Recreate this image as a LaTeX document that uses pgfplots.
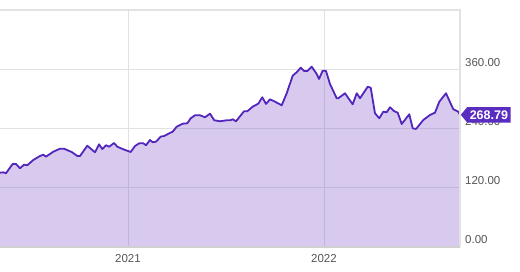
\documentclass[border=0pt]{standalone}
\usepackage{pgfplots}
\pgfplotsset{compat=1.18}
\usepackage{fontspec}
\setmainfont{Liberation Sans}
\usetikzlibrary{shapes.symbols}
\definecolor{linec}{HTML}{5226BC}
\definecolor{fillc}{HTML}{6F42C1}
\definecolor{tagc}{HTML}{5A2DC0}
\definecolor{gridc}{HTML}{E2E2E2}
\definecolor{labc}{HTML}{555555}
\pgfplotstableread{
x y
0 151.1
3.3 151.9
6 149.9
8.3 156.6
12.7 168.8
16 168.8
20 160.1
24 167.4
27.3 166.2
33.3 177
40 185.1
43.3 187.7
46 183.7
53.3 193.8
60 199.9
64 199.9
71.7 193.2
77.3 185.1
80 185.1
87.3 206
95 192.6
99 208.9
102.3 199.3
106 206.9
109.3 204
114 211.5
117.3 204
123.3 198.7
130.7 193.2
135 205.4
139.3 210.9
143.3 210.9
146 206.9
150 217.6
152.7 213
156 214.2
160.7 224.4
164.3 225.8
169.3 231.3
172.7 234.5
176.7 244.7
182.7 250.8
187.3 251.6
190.7 261.8
195 267.9
200 267.9
205 263.8
210 271.1
214.3 257.7
220 255.7
226.7 257.7
230 257.7
232.7 259.7
236 255.7
244 276
247.3 276
252.7 285.4
258.3 291.5
262.3 304.5
266 290.9
270 300.4
275 295.5
281.7 288.2
286.7 312.6
292.7 348.4
297.3 356.6
300.7 364.7
304 358
307.3 358
311.7 366.7
316.7 351.9
319 341.7
322.7 358.6
326 358
330 331.5
336.7 302.5
338.3 302.5
345 312.6
352.7 290.2
356.7 312.6
360 302.5
367.7 326
370.7 324
375 271.9
379.3 261.8
383.3 275.2
386.7 274
390 284.1
394.3 276
397.7 273.2
401.7 250.2
409.3 269.9
412.7 241.4
416 240
423.3 258.3
430 268.5
435 273.2
439.3 295.5
446 312.6
453.3 280.1
458.3 275.2
460 268.79
}\pricedata
\begin{document}
\begin{tikzpicture}
\useasboundingbox (0,0) rectangle (520pt,272pt);
\begin{axis}[
  at={(0pt,25pt)}, anchor=south west,
  scale only axis, width=460pt, height=237pt,
  xmin=0, xmax=460, ymin=0, ymax=482,
  axis line style={draw=none},
  xtick={128,324}, xticklabels={2021,2022},
  ytick={0,120,240,360},
  yticklabel pos=right,
  major tick length=0pt,
  grid=major,
  major grid style={color=gridc, line width=1pt},
  tick label style={font=\fontsize{11.5}{12}\selectfont, text=labc},
  xticklabel style={anchor=base, inner sep=0pt, yshift=-16pt},
  yticklabel style={anchor=base west, inner sep=0pt, xshift=5pt, yshift=3pt},
  /pgf/number format/.cd, fixed, fixed zerofill, precision=2, assume math mode=true,
  /pgfplots/.cd,
  clip=false,
]
\addplot[draw=none, fill=fillc, fill opacity=0.28] table {\pricedata} \closedcycle;
\addplot[color=linec, line width=1.8pt, line join=round] table {\pricedata};
\draw[gridc, line width=1.5pt] (rel axis cs:0,1) -- (rel axis cs:1,1) -- (rel axis cs:1,0);
\draw[color=gridc!92!black, line width=2pt] (rel axis cs:0,0) -- (rel axis cs:1,0);
\node[signal, signal to=west, signal pointer angle=100, fill=tagc, text=white,
  font=\fontsize{12.5}{13}\selectfont\bfseries, inner xsep=2.5pt, inner ysep=1.5pt, minimum height=15.5pt,
  anchor=west] at (axis cs:460.5,268.79) {268.79};
\end{axis}
\end{tikzpicture}
\end{document}
